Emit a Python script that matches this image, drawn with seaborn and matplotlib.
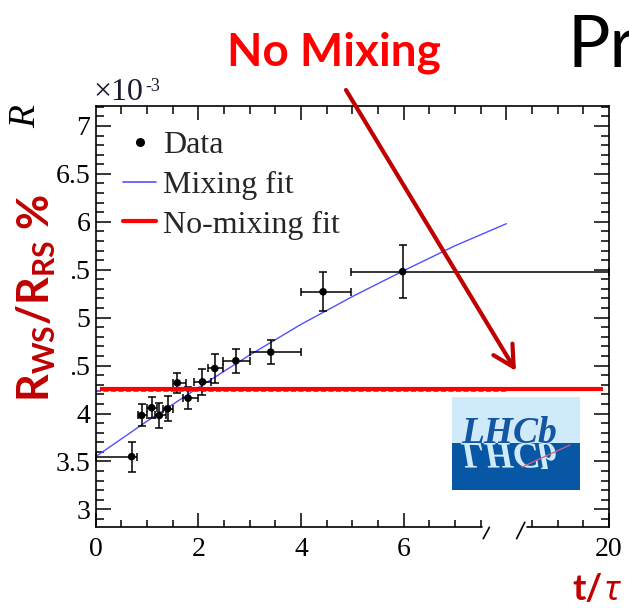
import numpy as np
import matplotlib
matplotlib.use("Agg")
import matplotlib.pyplot as plt
import seaborn as sns
from matplotlib import ticker
from matplotlib.patches import Rectangle, FancyArrowPatch, PathPatch
from matplotlib.lines import Line2D
from matplotlib.textpath import TextPath
from matplotlib.font_manager import FontProperties
from matplotlib.transforms import Affine2D

# ---------------- data ----------------
t_data = [0.70, 0.895, 1.09, 1.24, 1.40, 1.59, 1.80, 2.08, 2.32, 2.73, 3.41, 4.43, 5.98]
t_low = [0.0, 0.83, 0.99, 1.16, 1.32, 1.50, 1.70, 1.92, 2.19, 2.48, 3.00, 4.00, 4.98]
t_high = [0.80, 0.99, 1.20, 1.36, 1.51, 1.76, 2.00, 2.25, 2.48, 3.00, 4.00, 4.98, 20.0]
R_data = [3.55, 3.98, 4.06, 3.98, 4.05, 4.32, 4.16, 4.33, 4.47, 4.55, 4.64, 5.27, 5.48]
R_err = [0.155, 0.115, 0.11, 0.13, 0.13, 0.105, 0.117, 0.133, 0.15, 0.124, 0.124, 0.203, 0.28]

fit_t = [0, 1, 2, 3, 4, 5, 6, 7, 8]
fit_R = [3.55, 3.92, 4.27, 4.61, 4.93, 5.22, 5.49, 5.75, 5.98]
nomix_t = [0, 8]
nomix_R = 4.24
overlay_t = [0.08, 19.88]
overlay_R = 4.26

x_major = [0, 2, 4, 6, 20]
x_major_labels = ["0", "2", "4", "6", "20"]
x_minor = [0.5, 1, 1.5, 2.5, 3, 3.5, 4.5, 5, 5.5, 6.5, 7, 7.5, 18.5, 19, 19.5]
y_major = [3, 3.5, 4, 4.5, 5, 5.5, 6, 6.5, 7]
# "5.5" and "4.5" are partly hidden by the slide's label, showing as ".5"
y_major_labels = ["3", "3.5", "4", ".5", "5", ".5", "6", "6.5", "7"]
legend_labels = ["Data", "Mixing fit", "No-mixing fit"]

# ---------------- style ----------------
sns.set_theme(style="ticks")
plt.rcParams["font.family"] = ["Liberation Serif", "DejaVu Serif"]
plt.rcParams["mathtext.fontset"] = "custom"
plt.rcParams["mathtext.rm"] = "Lato"
plt.rcParams["mathtext.bf"] = "Lato:bold"
plt.rcParams["mathtext.it"] = "Lato:italic"

W, H = 629, 608
fig = plt.figure(figsize=(W / 100, H / 100), dpi=100)
fig.patch.set_facecolor("white")

def fx(px):
    return px / W

def fy(py):
    return 1 - py / H

ax_l, ax_r, ax_t, ax_b = 95.7, 609.0, 105.8, 527.3
ax = fig.add_axes([fx(ax_l), fy(ax_b), (ax_r - ax_l) / W, (ax_b - ax_t) / H])
ax.set_facecolor("white")

# broken x axis: linear up to 8, compressed gap, then 18.4..20
def fwd(x):
    x = np.asarray(x, dtype=float)
    return np.where(x <= 8.0, x,
                    np.where(x >= 18.4, x - 10.0, 8.0 + (x - 8.0) * 0.4 / 10.4))

def inv(u):
    u = np.asarray(u, dtype=float)
    return np.where(u <= 8.0, u,
                    np.where(u >= 8.4, u + 10.0, 8.0 + (u - 8.0) * 10.4 / 0.4))

ax.set_xscale("function", functions=(fwd, inv))
ax.set_xlim(0, 20)
ax.set_ylim(2.813, 7.21)

# ---------------- marks ----------------
ax.plot(nomix_t, [nomix_R, nomix_R], color="#4646ff", lw=1.2, ls=(0, (3, 1.5)), zorder=2)
sns.lineplot(x=fit_t, y=fit_R, ax=ax, color="#5050ff", lw=1.0, zorder=2, legend=False)
xerr = [np.array(t_data) - np.array(t_low), np.array(t_high) - np.array(t_data)]
ax.errorbar(t_data, R_data, xerr=xerr, yerr=R_err, fmt="none", ecolor="black",
            elinewidth=1.1, capsize=2.8, capthick=1.1, zorder=3, clip_on=False)
sns.scatterplot(x=t_data, y=R_data, ax=ax, color="black", s=30, edgecolor="none",
                zorder=4, legend=False)
ax.plot(overlay_t, [overlay_R, overlay_R], color="#ff0000", lw=3.0, zorder=5,
        solid_capstyle="butt")

# ---------------- axes decoration ----------------
for side in ["top", "bottom"]:
    ax.spines[side].set_visible(False)
for side in ["left", "right"]:
    ax.spines[side].set_linewidth(1.2)
    ax.spines[side].set_color("black")

ax.set_yticks(y_major)
ax.set_yticklabels(y_major_labels)
ax.yaxis.set_minor_locator(ticker.MultipleLocator(0.1))
ax.tick_params(axis="y", which="both", direction="in", left=True, right=True,
               colors="black", width=1.1, labelsize=20, pad=4)
ax.tick_params(axis="y", which="major", length=11)
ax.tick_params(axis="y", which="minor", length=5.5)

ax.set_xticks(x_major)
ax.set_xticklabels(x_major_labels)
ax.set_xticks(x_minor, minor=True)
ax.tick_params(axis="x", which="both", direction="in", bottom=True, top=False,
               colors="black", width=1.1, labelsize=20, pad=7)
ax.tick_params(axis="x", which="major", length=10)
ax.tick_params(axis="x", which="minor", length=5)
ax.set_xlabel("")
ax.set_ylabel("")

xt = ax.get_xaxis_transform()
ax.plot([0, 7.52], [0, 0], transform=xt, color="black", lw=1.2, clip_on=False, zorder=6)
ax.plot([18.41, 20], [0, 0], transform=xt, color="black", lw=1.2, clip_on=False, zorder=6)
for (x0, y0, x1, y1) in [(0.755, -0.027, 0.767, 0.0), (0.820, -0.027, 0.836, 0.012)]:
    ax.plot([x0, x1], [y0, y1], transform=ax.transAxes, color="black", lw=1.2,
            clip_on=False, zorder=6)

ax_top = ax.twiny()
ax_top.set_xlim(0, 10)
ax_top.set_xticks([2, 4, 6, 8])
ax_top.set_xticks(np.arange(0.5, 10, 0.5), minor=True)
ax_top.tick_params(axis="x", which="both", direction="in", top=True, bottom=False,
                   labeltop=False, labelbottom=False, width=1.1, colors="black")
ax_top.tick_params(axis="x", which="major", length=10)
ax_top.tick_params(axis="x", which="minor", length=5.5)
for side in ["bottom", "left", "right"]:
    ax_top.spines[side].set_visible(False)
ax_top.spines["top"].set_linewidth(1.2)
ax_top.spines["top"].set_color("black")

handles = [
    Line2D([], [], ls="none", marker="o", markersize=5.5, color="black"),
    Line2D([], [], color="#5050ff", lw=1.2),
    Line2D([], [], color="#ff0000", lw=3.0),
]
ax.legend(handles, legend_labels, loc="upper left", bbox_to_anchor=(0.053, 0.94),
          frameon=False, borderpad=0, borderaxespad=0, handlelength=1.05,
          handletextpad=0.2, labelspacing=0.32,
          prop=FontProperties(family="Liberation Serif", size=23))

fig.text(fx(26), fy(117), "R", rotation=90, ha="center", va="center",
         family="Liberation Serif", style="italic", size=27, color="black")
fig.text(fx(93), fy(100), "\u00d710", ha="left", va="baseline",
         family="Liberation Serif", size=23, color="#1a1a30")
fig.text(fx(145), fy(91), "-3", ha="left", va="baseline",
         family="Liberation Serif", size=13, color="#1a1a30")

# ---------------- slide overlays ----------------
fig.text(fx(36), fy(298), r"$\mathbf{R_{WS}/R_{RS}}$ %", rotation=90, ha="center",
         va="center", family="Lato", weight="bold", size=31, color="#c00000", zorder=3)

fig.text(fx(334), fy(65), "No Mixing", ha="center", va="baseline", family="Lato",
         weight="bold", size=33, color="#ff0000")
fig.text(fx(567), fy(67), "Pr", ha="left", va="baseline", family="Lato",
         size=51, color="black")

fig.text(fx(572), fy(600), "t/", ha="left", va="baseline", family="Lato",
         weight="bold", size=26, color="#c00000")
fig.text(fx(605), fy(600), "\u03c4", ha="left", va="baseline",
         family=["Noto Sans", "DejaVu Sans"], style="italic", weight="bold",
         size=25, color="#c00000")

arrow = FancyArrowPatch((fx(346), fy(90)), (fx(516), fy(371)), transform=fig.transFigure,
                        arrowstyle="->,head_length=0.75,head_width=0.4", mutation_scale=20,
                        color="#c00000", lw=3.0, shrinkA=0, shrinkB=0, zorder=10)
fig.add_artist(arrow)

lx0, lx1, ly0, lmid, ly1 = 452, 580, 397, 443, 490
fig.add_artist(Rectangle((fx(lx0), fy(lmid)), (lx1 - lx0) / W, (lmid - ly0) / H,
                         transform=fig.transFigure, facecolor="#cfeaf8", edgecolor="none",
                         zorder=2))
dark = Rectangle((fx(lx0), fy(ly1)), (lx1 - lx0) / W, (ly1 - lmid) / H,
                 transform=fig.transFigure, facecolor="#0857a4", edgecolor="none", zorder=2)
fig.add_artist(dark)
logo_fp = FontProperties(family="Liberation Serif", style="italic", weight="bold", size=27)
fig.text(fx(461), fy(lmid), "LHCb", ha="left", va="baseline", fontproperties=logo_fp,
         color="#1556a4", zorder=4)
tp = TextPath((0, 0), "LHCb", size=27, prop=logo_fp)
refl = PathPatch(tp, facecolor="#cfeaf8", edgecolor="none", zorder=3,
                 transform=Affine2D().scale(1 / 72, -1 / 72).translate(4.61, (H - lmid) / 100)
                 + fig.dpi_scale_trans)
fig.add_artist(refl)
refl.set_clip_path(dark)
fig.add_artist(Line2D([fx(522), fx(570)], [fy(467), fy(445)], transform=fig.transFigure,
                      color="#d86080", lw=0.9, zorder=4))

fig.savefig("out.png", dpi=100)
